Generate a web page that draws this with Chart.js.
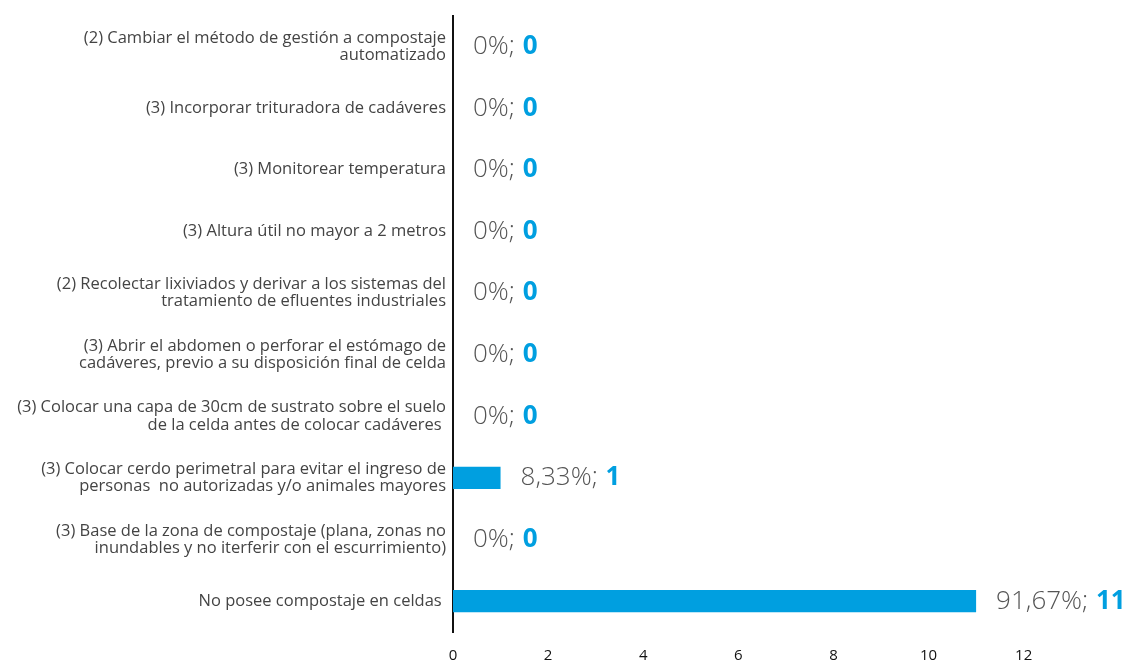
<!DOCTYPE html>
<html>
<head>
<meta charset="utf-8">
<title>Compostaje en celdas</title>
<script src="https://cdn.jsdelivr.net/npm/chart.js@4/dist/chart.umd.min.js"></script>
<style>
  html, body { margin: 0; padding: 0; background: #fff; }
  #wrap { width: 1125px; height: 662px; position: relative; }
</style>
</head>
<body>
<div id="wrap"><canvas id="bar_chart"></canvas></div>
<script>
// categories, top to bottom
const categories = [
  ['(2) Cambiar el método de gestión a compostaje', 'automatizado'],
  ['(3) Incorporar trituradora de cadáveres'],
  ['(3) Monitorear temperatura'],
  ['(3) Altura útil no mayor a 2 metros'],
  ['(2) Recolectar lixiviados y derivar a los sistemas del', 'tratamiento de efluentes industriales'],
  ['(3) Abrir el abdomen o perforar el estómago de', 'cadáveres, previo a su disposición final de celda'],
  ['(3) Colocar una capa de 30cm de sustrato sobre el suelo', 'de la celda antes de colocar cadáveres '],
  ['(3) Colocar cerdo perimetral para evitar el ingreso de', 'personas  no autorizadas y/o animales mayores'],
  ['(3) Base de la zona de compostaje (plana, zonas no', 'inundables y no iterferir con el escurrimiento)'],
  ['No posee compostaje en celdas ']
];
const counts = [0, 0, 0, 0, 0, 0, 0, 1, 0, 11];
const xTicks = [0, 2, 4, 6, 8, 10, 12];

const total = counts.reduce((a, b) => a + b, 0);
const blue = '#009fe0';

function pctText(v) {
  if (v === 0) return '0%';
  return (v / total * 100).toFixed(2).replace('.', ',') + '%';
}

// draws "xx%; n" to the right of each bar
const valueLabels = {
  id: 'valueLabels',
  afterDatasetsDraw(chart) {
    const ctx = chart.ctx;
    const meta = chart.getDatasetMeta(0);
    ctx.save();
    ctx.textBaseline = 'middle';
    ctx.textAlign = 'left';
    meta.data.forEach((bar, i) => {
      const v = counts[i];
      let x = bar.x + 20;
      const y = bar.y;
      const p = pctText(v) + '; ';
      ctx.font = '300 26px "Open Sans", sans-serif';
      ctx.fillStyle = '#555';
      ctx.fillText(p, x, y);
      x += ctx.measureText(p).width + 1;
      ctx.font = '700 26px "Open Sans", sans-serif';
      ctx.fillStyle = blue;
      ctx.fillText(String(v), x, y);
    });
    ctx.restore();
  }
};

const ctx1 = document.getElementById('bar_chart').getContext('2d');
const chart1 = new Chart(ctx1, {
  type: 'bar',
  data: {
    labels: categories,
    datasets: [{
      data: counts,
      backgroundColor: blue,
      borderWidth: 0,
      barPercentage: 0.36,
      categoryPercentage: 1
    }]
  },
  options: {
    indexAxis: 'y',
    responsive: true,
    maintainAspectRatio: false,
    animation: false,
    layout: { padding: { top: 12, right: 30, bottom: 0, left: 0 } },
    plugins: {
      legend: { display: false },
      tooltip: { enabled: false }
    },
    scales: {
      x: {
        min: 0,
        max: 13.5,
        afterBuildTicks: (scale) => {
          scale.ticks = xTicks.map(v => ({ value: v }));
        },
        afterFit: (scale) => { scale.height = 30; },
        grid: { display: false, drawTicks: false },
        border: { display: false },
        ticks: {
          color: '#111',
          padding: 16,
          font: { family: '"Open Sans", sans-serif', size: 15, lineHeight: 1 }
        }
      },
      y: {
        afterFit: (scale) => { scale.width = 453; },
        grid: { display: false, drawTicks: false },
        border: { display: true, color: '#111', width: 2 },
        ticks: {
          color: '#444',
          padding: 7,
          font: { family: '"Open Sans", sans-serif', size: 16.5, lineHeight: 1.05 }
        }
      }
    }
  },
  plugins: [valueLabels]
});
</script>
</body>
</html>
